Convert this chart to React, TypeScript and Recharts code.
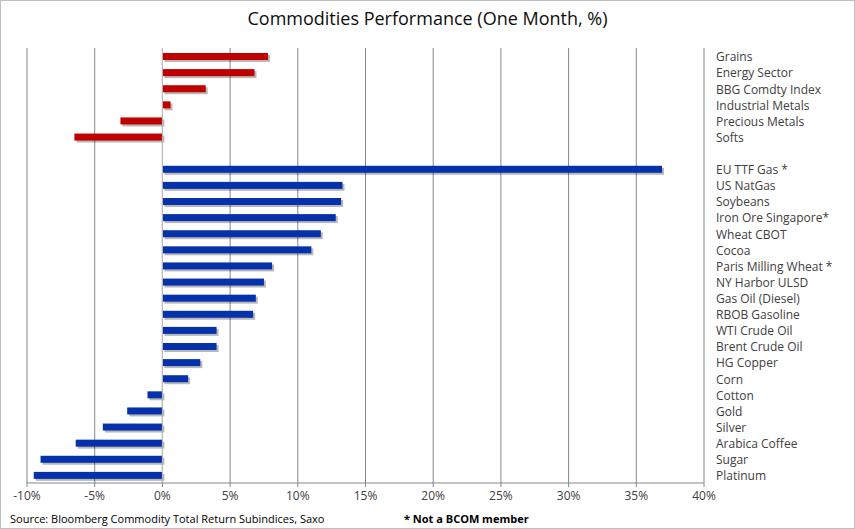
import { BarChart, Bar, XAxis, YAxis, CartesianGrid, Cell, ReferenceLine } from "recharts";

const sectorNames = ["Grains", "Energy Sector", "BBG Comdty Index", "Industrial Metals", "Precious Metals", "Softs"];
const sectorValues = [7.8, 6.8, 3.2, 0.6, -3.1, -6.5];

const commodityNames = [
  "EU TTF Gas *",
  "US NatGas",
  "Soybeans",
  "Iron Ore Singapore*",
  "Wheat CBOT",
  "Cocoa",
  "Paris Milling Wheat *",
  "NY Harbor ULSD",
  "Gas Oil (Diesel)",
  "RBOB Gasoline",
  "WTI Crude Oil",
  "Brent Crude Oil",
  "HG Copper",
  "Corn",
  "Cotton",
  "Gold",
  "Silver",
  "Arabica Coffee",
  "Sugar",
  "Platinum",
];
const commodityValues = [36.9, 13.3, 13.2, 12.8, 11.7, 11.0, 8.1, 7.5, 6.9, 6.7, 4.0, 4.0, 2.8, 1.9, -1.1, -2.6, -4.4, -6.4, -9.0, -9.5];

const xTicks = [-10, -5, 0, 5, 10, 15, 20, 25, 30, 35, 40];

const RED = "#C00000";
const BLUE = "#0531AB";
const FONT = "'Open Sans', sans-serif";

const data = [
  ...sectorNames.map((name, i) => ({ name, value: sectorValues[i], color: RED })),
  { name: " ", value: null, color: BLUE },
  ...commodityNames.map((name, i) => ({ name, value: commodityValues[i], color: BLUE })),
];

// bar with a small drop shadow, like the Excel original
const ShadowBar = (props: any) => {
  const { x, y, width, height, fill } = props;
  if (!width || !height) return null;
  const x0 = Math.min(x, x + width);
  const w = Math.abs(width);
  return (
    <g>
      <rect x={x0 + 2} y={y + 2} width={w} height={height} fill="#000" fillOpacity={0.28} />
      <rect x={x0} y={y} width={w} height={height} fill={fill} />
    </g>
  );
};

const App = () => {
  return (
    <div style={{ position: "relative", width: 855, height: 529, background: "#fff", fontFamily: FONT }}>
      <style>{`body{margin:0}`}</style>
      <BarChart
        width={855}
        height={529}
        data={data}
        layout="vertical"
        margin={{ top: 48, left: 27, right: 2, bottom: 16 }}
        barCategoryGap={0}
      >
        <CartesianGrid horizontal={false} stroke="#878787" strokeWidth={1} />
        <XAxis
          type="number"
          domain={[-10, 40]}
          ticks={xTicks}
          tickFormatter={(v) => `${v}%`}
          height={30}
          stroke="#878787"
          tickSize={4}
          tickMargin={4}
          tick={{ fill: "#404040", fontSize: 12, fontFamily: FONT }}
          interval={0}
        />
        <XAxis
          xAxisId="top"
          orientation="top"
          type="number"
          domain={[-10, 40]}
          height={0}
          tick={false}
          tickLine={false}
          stroke="#BFBFBF"
        />
        <YAxis
          type="category"
          dataKey="name"
          orientation="right"
          width={149}
          tickLine={false}
          tickSize={6}
          tickMargin={6}
          stroke="#BFBFBF"
          interval={0}
          tick={{ fill: "#404040", fontSize: 12, fontFamily: FONT, textAnchor: "start", dy: 1 }}
        />
        <ReferenceLine x={-10} stroke="#BFBFBF" />
        <ReferenceLine x={0} stroke="#BFBFBF" />
        <Bar dataKey="value" barSize={7} isAnimationActive={false} shape={ShadowBar}>
          {data.map((d, i) => (
            <Cell key={i} fill={d.color} />
          ))}
        </Bar>
      </BarChart>
      <div
        style={{
          position: "absolute",
          top: 6,
          left: 0,
          width: 855,
          textAlign: "center",
          fontSize: 18,
          color: "#0d0d0d",
        }}
      >
        Commodities Performance (One Month, %)
      </div>
      <div style={{ position: "absolute", top: 511, left: 10, fontSize: 11, color: "#000" }}>
        Source: Bloomberg Commodity Total Return Subindices, Saxo
      </div>
      <div style={{ position: "absolute", top: 511, left: 404, fontSize: 11, fontWeight: 700, color: "#000" }}>
        * Not a BCOM member
      </div>
      <div
        style={{
          position: "absolute",
          top: 0,
          left: 0,
          width: 855,
          height: 529,
          boxSizing: "border-box",
          border: "1px solid #BFBFBF",
          pointerEvents: "none",
        }}
      />
    </div>
  );
};

export default App;
